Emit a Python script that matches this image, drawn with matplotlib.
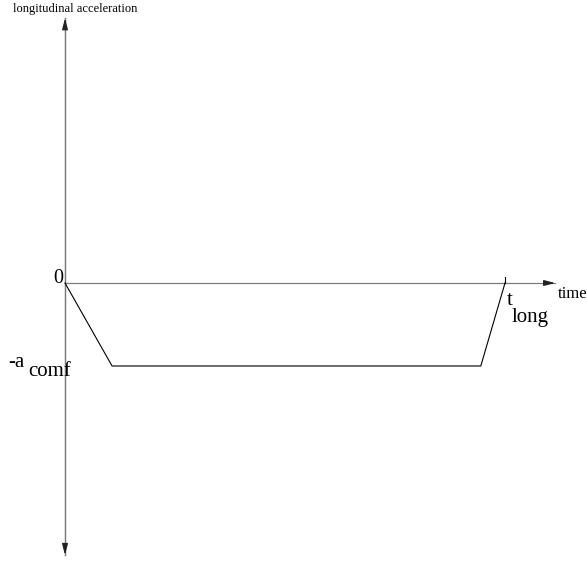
import matplotlib
matplotlib.use("Agg")
import matplotlib.pyplot as plt

# profile of the longitudinal acceleration (time in units of t_long, accel in units of a_comf)
time_pts = [0.0, 0.107, 0.945, 1.0]
accel_pts = [0.0, -1.0, -1.0, 0.0]

# axis extents
time_axis_end = 1.114
accel_axis_top = 3.19
accel_axis_bottom = -3.277
tick_height = 0.07

plt.rcParams['font.family'] = ['Liberation Serif', 'DejaVu Serif']

fig = plt.figure(figsize=(5.87, 5.63), dpi=100)
ax = fig.add_axes([0, 0, 1, 1])
ax.set_xlim(-65 / 440, 522 / 440)
ax.set_ylim(-280 / 83, 283 / 83)
ax.axis('off')

axis_col = '#7a7a7a'
head = dict(arrowstyle='-|>,head_length=0.65,head_width=0.17', color='#222222',
            lw=0.9, shrinkA=0, shrinkB=0)


def axis_arrow(x0, y0, x1, y1, dx, dy):
    # gray shaft, dark head at (x1, y1)
    ax.plot([x0, x1], [y0, y1], color=axis_col, lw=0.9)
    ax.annotate('', xy=(x1, y1), xytext=(x1 - dx, y1 - dy), arrowprops=head)


# axes
axis_arrow(0, 0, time_axis_end, 0, 0.02, 0)
axis_arrow(0, accel_axis_bottom, 0, accel_axis_top, 0, 0.11)
axis_arrow(0, accel_axis_top, 0, accel_axis_bottom, 0, -0.11)

# acceleration profile
ax.plot(time_pts, accel_pts, color='black', lw=0.8, solid_joinstyle='miter')
ax.plot([time_pts[-1], time_pts[-1]], [0, tick_height], color='black', lw=0.8)

# labels
ax.text(-0.118, 3.265, 'longitudinal acceleration', fontsize=9, ha='left', va='baseline')
ax.text(-0.003, 0.0, '0', fontsize=14.5, ha='right', va='baseline')
ax.text(-0.1295, -1.012, '-a', fontsize=15, ha='left', va='baseline')
ax.text(-0.084, -1.12, 'comf', fontsize=15, ha='left', va='baseline')
ax.text(1.0045, -0.265, 't', fontsize=15, ha='left', va='baseline')
ax.text(1.016, -0.47, 'long', fontsize=15, ha='left', va='baseline')
ax.text(1.1205, -0.18, 'time', fontsize=12, ha='left', va='baseline')

fig.savefig('out.png', dpi=100)
